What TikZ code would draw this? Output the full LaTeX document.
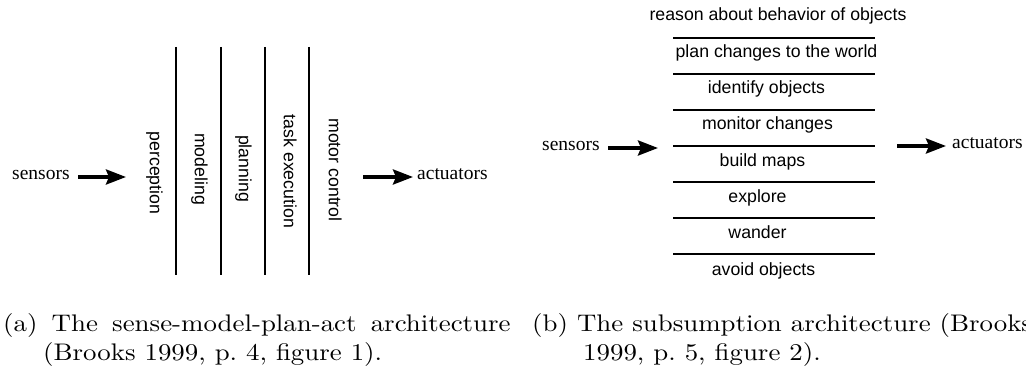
\documentclass[tikz,border=0pt]{standalone}
\usepackage{fontspec}
\newfontfamily\lsans{Liberation Sans}
\newfontfamily\lserif{Liberation Serif}
\newfontfamily\capfont[Extension=.otf]{lmroman10-regular}
\usetikzlibrary{arrows.meta}
\tikzset{
  layer/.style={font=\lsans\fontsize{17.7}{20}\selectfont, inner sep=0pt, anchor=mid},
  vlayer/.style={layer, rotate=-90},
  io/.style={font=\lserif\fontsize{19.5}{22}\selectfont, inner sep=0pt, anchor=mid west},
  captext/.style={font=\capfont\fontsize{24}{29}\selectfont, inner sep=0pt, anchor=base west, xscale=1.12},
  sepline/.style={line width=1.6pt},
  bigarrow/.style={line width=3.5pt, -{Stealth[length=20pt,width=15pt,inset=3pt]}}
}
\begin{document}
\begin{tikzpicture}[x=1pt,y=-1pt]
\useasboundingbox (0,0) rectangle (1026,374);
% ---------- (a) sense-model-plan-act ----------
\node[io] (sensA) at (12,177) {sensors};
\coordinate (sa1) at (78,177);
\coordinate (sa2) at (126,177);
\draw[bigarrow] (sa1) -- (sa2);
\node[vlayer] (perc) at (152,173) {perception};
\node[vlayer] (model) at (197,169) {modeling};
\node[vlayer] (plan) at (241,168.5) {planning};
\node[vlayer] (task) at (286,171.5) {task execution};
\node[vlayer] (motor) at (331,170) {motor control};
\foreach \x in {176,221,265,309}
  \draw[sepline] (\x,47) -- (\x,275);
\coordinate (aa1) at (363,177);
\coordinate (aa2) at (413,177);
\draw[bigarrow] (aa1) -- (aa2);
\node[io] (actA) at (417,177) {actuators};
% ---------- (b) subsumption ----------
\node[io] (sensB) at (542,148) {sensors};
\coordinate (sb1) at (608,148);
\coordinate (sb2) at (658,148);
\draw[bigarrow] (sb1) -- (sb2);
\node[layer] (l8) at (778,18) {reason about behavior of objects};
\node[layer] (l7) at (776.5,55) {plan changes to the world};
\node[layer] (l6) at (766.5,91) {identify objects};
\node[layer] (l5) at (767.5,127) {monitor changes};
\node[layer] (l4) at (762.5,164) {build maps};
\node[layer] (l3) at (757.5,200) {explore};
\node[layer] (l2) at (757.5,236) {wander};
\node[layer] (l1) at (763.5,273) {avoid objects};
\foreach \y in {38,74,110,146,182,218,254}
  \draw[sepline] (673,\y) -- (875,\y);
\coordinate (ab1) at (897,146);
\coordinate (ab2) at (946,146);
\draw[bigarrow] (ab1) -- (ab2);
\node[io] (actB) at (952,146) {actuators};
% ---------- captions ----------
\node[captext] (capA1) at (3,331) {\makebox[453pt][s]{(a) The sense-model-plan-act architecture}};
\node[captext] (capA2) at (43,360) {(Brooks 1999, p.~4, figure 1).};
\node[captext] (capB1) at (532,331) {(b) The subsumption architecture (Brooks};
\node[captext] (capB2) at (583,360) {1999, p.~5, figure 2).};
\end{tikzpicture}
\end{document}
